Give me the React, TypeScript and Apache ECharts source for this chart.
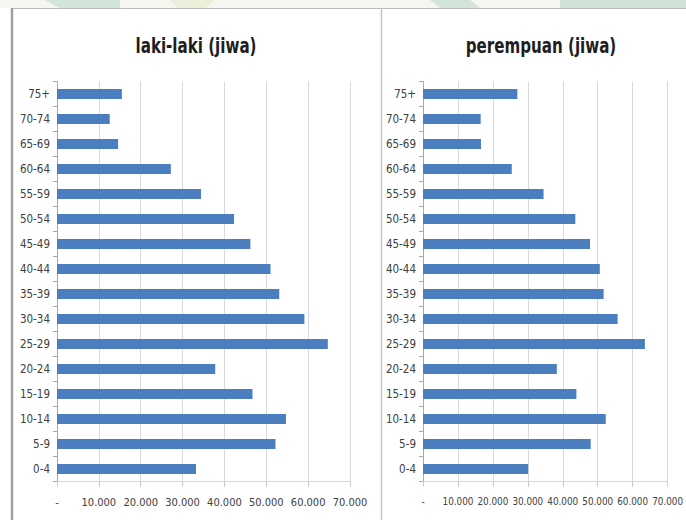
import React, { useEffect, useRef } from 'react';
import * as echarts from 'echarts';

const ageGroups = ['0-4', '5-9', '10-14', '15-19', '20-24', '25-29', '30-34', '35-39', '40-44', '45-49', '50-54', '55-59', '60-64', '65-69', '70-74', '75+'];
const lakiLaki = [33200, 52200, 54700, 46700, 37800, 64700, 59100, 53100, 51000, 46200, 42300, 34400, 27200, 14600, 12600, 15500];
const perempuan = [30100, 48000, 52300, 43900, 38300, 63500, 55700, 51700, 50600, 47800, 43600, 34500, 25400, 16600, 16500, 27000];
const xTickLabels = ['-', '10.000', '20.000', '30.000', '40.000', '50.000', '60.000', '70.000'];
const titles = ['laki-laki (jiwa)', 'perempuan (jiwa)'];

const FONT = '"DejaVu Sans Condensed", "Liberation Sans Narrow", sans-serif';
const BAR = '#4a7ebf';

export default function App() {
  const ref = useRef<HTMLDivElement>(null);
  useEffect(() => {
    if (!ref.current) return;
    const chart = echarts.init(ref.current, undefined, { renderer: 'svg' });
    const xAxisCommon = (gridIndex: number, fontSize: number) => ({
      type: 'value',
      gridIndex,
      min: 0,
      max: 70000,
      interval: 10000,
      axisLine: { show: true, lineStyle: { color: '#d4d4d4', width: 1 } },
      axisTick: { show: true, length: 5, lineStyle: { color: '#c8c8c8' } },
      splitLine: { show: true, lineStyle: { color: '#d9d9d9', width: 1 } },
      axisLabel: {
        formatter: (v: number) => xTickLabels[Math.round(v / 10000)],
        fontFamily: FONT,
        fontSize,
        color: '#404040',
        margin: 15,
        showMinLabel: true,
        showMaxLabel: true,
        hideOverlap: false,
      },
    });
    const yAxisCommon = (gridIndex: number) => ({
      type: 'category',
      gridIndex,
      data: ageGroups,
      axisLine: { show: true, lineStyle: { color: '#a8a8a8', width: 1 } },
      axisTick: { show: true, length: 4, lineStyle: { color: '#a8a8a8' } },
      splitLine: { show: false },
      axisLabel: {
        fontFamily: FONT,
        fontSize: 11.5,
        color: '#404040',
        margin: 7,
        interval: 0,
      },
    });
    const titleText = (text: string, x: number) => ({
      type: 'text',
      x,
      y: 45,
      scaleX: 0.8,
      silent: true,
      style: {
        text,
        textAlign: 'center',
        textVerticalAlign: 'middle',
        font: 'bold 21px "DejaVu Sans Condensed", sans-serif',
        fill: '#1e1e1e',
      },
    });
    chart.setOption({
      animation: false,
      backgroundColor: '#ffffff',
      grid: [
        { left: 57, top: 81.5, width: 293, height: 400, containLabel: false },
        { left: 423, top: 81.5, width: 250, height: 400, containLabel: false },
      ],
      xAxis: [xAxisCommon(0, 11), xAxisCommon(1, 9.8)],
      yAxis: [yAxisCommon(0), yAxisCommon(1)],
      series: [
        { type: 'bar', xAxisIndex: 0, yAxisIndex: 0, data: lakiLaki, barWidth: 10, itemStyle: { color: BAR } },
        { type: 'bar', xAxisIndex: 1, yAxisIndex: 1, data: perempuan, barWidth: 10, itemStyle: { color: BAR } },
      ],
      graphic: [
        { type: 'rect', shape: { x: 0, y: 0, width: 686, height: 8 }, style: { fill: '#f6f6f0' }, silent: true },
        { type: 'polygon', shape: { points: [[45, 0], [120, 0], [120, 8], [60, 8]] }, style: { fill: '#d3e4d8' }, silent: true },
        { type: 'polygon', shape: { points: [[170, 0], [215, 0], [205, 8], [178, 8]] }, style: { fill: '#e9efd8' }, silent: true },
        { type: 'polygon', shape: { points: [[430, 0], [470, 0], [480, 8], [440, 8]] }, style: { fill: '#d3e4d8' }, silent: true },
        { type: 'rect', shape: { x: 560, y: 0, width: 126, height: 8 }, style: { fill: '#cfe2d5' }, silent: true },
        { type: 'line', shape: { x1: 12, y1: 8.5, x2: 686, y2: 8.5 }, style: { stroke: '#bdbdbd', lineWidth: 1 }, silent: true },
        { type: 'line', shape: { x1: 12, y1: 8, x2: 12, y2: 520 }, style: { stroke: '#a0a0a0', lineWidth: 2.5 }, silent: true },
        { type: 'line', shape: { x1: 381.5, y1: 8, x2: 381.5, y2: 520 }, style: { stroke: '#c4c4c4', lineWidth: 1.5 }, silent: true },
        titleText(titles[0], 196),
        titleText(titles[1], 541),
      ],
    });
    return () => chart.dispose();
  }, []);
  return <div ref={ref} style={{ position: 'fixed', left: 0, top: 0, width: 686, height: 520 }} />;
}
